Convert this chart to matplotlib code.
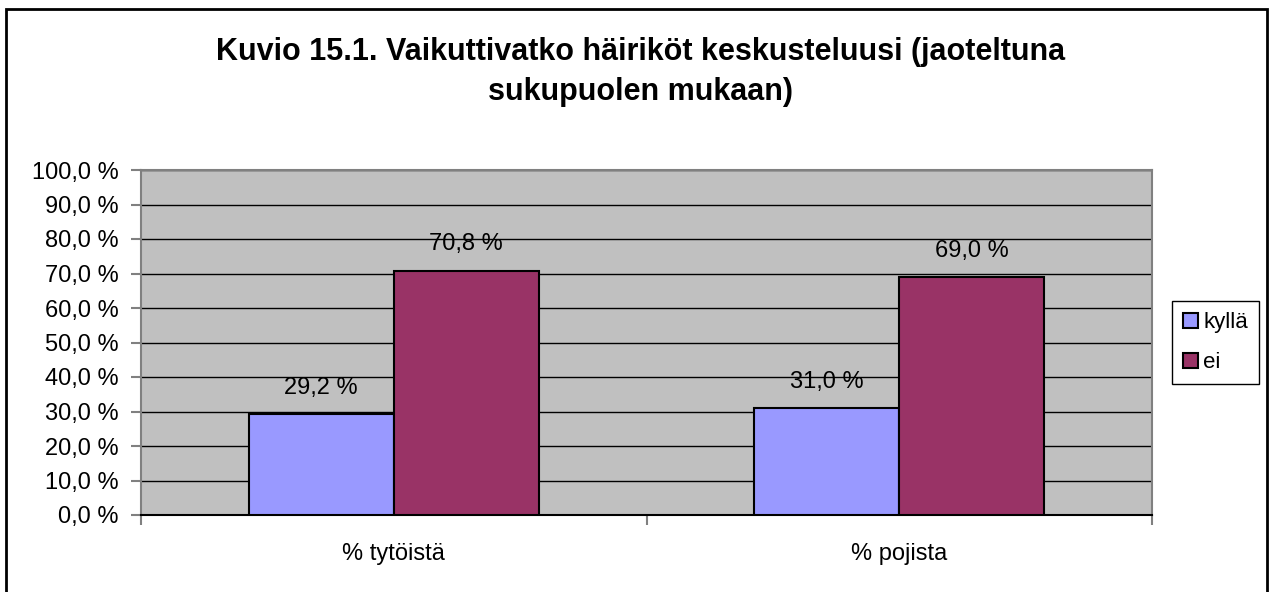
import numpy as np
import matplotlib
matplotlib.use("Agg")
import matplotlib.pyplot as plt
from matplotlib.patches import Rectangle

plt.rcParams['font.family'] = ['Liberation Sans', 'DejaVu Sans']

# data
categories = ['% tytöistä', '% pojista']
series_names = ['kyllä', 'ei']
kylla = [29.2, 31.0]
ei = [70.8, 69.0]
title = "Kuvio 15.1. Vaikuttivatko häiriköt keskusteluusi (jaoteltuna\nsukupuolen mukaan)"

W, H = 1269, 592
fig = plt.figure(figsize=(W / 100, H / 100), dpi=100)
fig.patch.set_facecolor('white')

# plot area in pixel coords
left, right, top, bottom = 141, 1152, 170, 515
ax = fig.add_axes([left / W, 1 - bottom / H, (right - left) / W, (bottom - top) / H])
ax.set_facecolor('#C0C0C0')

fs = 17
x = np.arange(len(categories)) + 0.5
w = 0.287
b1 = ax.bar(x - w / 2, kylla, w, color='#9999FF', edgecolor='black', linewidth=1.5, label=series_names[0], zorder=3)
b2 = ax.bar(x + w / 2, ei, w, color='#993366', edgecolor='black', linewidth=1.5, label=series_names[1], zorder=3)

for bars, vals in ((b1, kylla), (b2, ei)):
    for rect, v in zip(bars, vals):
        ax.annotate(f"{v:.1f} %".replace('.', ','),
                    (rect.get_x() + rect.get_width() / 2, v),
                    xytext=(0, 11), textcoords='offset points',
                    ha='center', va='bottom', fontsize=fs, zorder=4)

ax.set_xlim(0, len(categories))
ax.set_ylim(0, 100)
yt = np.arange(0, 101, 10)
ax.set_yticks(yt)
ax.set_yticklabels([f"{v:.1f} %".replace('.', ',') for v in yt], fontsize=fs)
ax.yaxis.grid(True, color='black', linewidth=1, zorder=1)
ax.set_axisbelow(True)

ax.set_xticks(np.arange(len(categories) + 1))
ax.set_xticklabels([])
ax.set_xticks(x, minor=True)
ax.set_xticklabels(categories, minor=True, fontsize=fs)
ax.tick_params(axis='x', which='major', direction='out', length=7, color='#808080', width=1.5)
ax.tick_params(axis='x', which='minor', length=0, pad=20)
ax.tick_params(axis='y', direction='out', length=7, color='#808080', width=1.5, pad=9)

for s in ax.spines.values():
    s.set_color('#808080')
    s.set_linewidth(1.5)
ax.spines['bottom'].set_color('black')

fig.text(641 / W, 1 - 72 / H, title, ha='center', va='center', fontsize=22,
         fontweight='bold', linespacing=1.47)

leg = ax.legend(loc='upper left', bbox_to_anchor=(1172 / W, 1 - 301 / H),
                bbox_transform=fig.transFigure, fontsize=16, frameon=True,
                fancybox=False, edgecolor='black', framealpha=1,
                handlelength=0.65, handleheight=0.65, handletextpad=0.25,
                borderpad=0.5, labelspacing=0.85, borderaxespad=0)
leg.get_frame().set_linewidth(1)

# outer chart border
fig.add_artist(Rectangle((6 / W, -0.02), (1267 - 6) / W, 1.02 - 9 / H,
                         transform=fig.transFigure, fill=False,
                         edgecolor='black', linewidth=2))

fig.savefig('out.png', dpi=100)
